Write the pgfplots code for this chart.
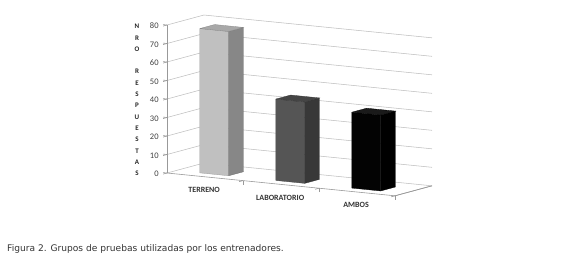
\documentclass[border=0pt]{standalone}
\usepackage{fontspec}
\setmainfont{Carlito}
\newfontfamily\capfont{DejaVu Sans}
\usepackage{pgfplots}
\pgfplotsset{compat=1.18}
\definecolor{gridc}{HTML}{BFBFBF}
\definecolor{tfront}{HTML}{C0C0C0}
\definecolor{tside}{HTML}{878787}
\definecolor{ttop}{HTML}{A8A8A8}
\definecolor{lfront}{HTML}{555555}
\definecolor{lside}{HTML}{383838}
\definecolor{ltop}{HTML}{454545}
\definecolor{afront}{HTML}{030303}
\definecolor{aside}{HTML}{000000}
\definecolor{atop}{HTML}{1A1A1A}
\begin{document}
\begin{tikzpicture}[x=1pt,y=1pt]
\useasboundingbox (-167,-85) rectangle (413,173);
\begin{axis}[
  at={(0pt,0pt)}, anchor=origin,
  x={(76pt,-7.6pt)}, y={(37pt,10pt)}, z={(0pt,1.85pt)},
  xmin=0, xmax=3, ymin=0, ymax=1, zmin=0, zmax=80,
  clip=false,
  axis lines=left,
  axis line style={-, draw=gridc!80!black, line width=0.6pt},
  zmajorgrids=true,
  grid style={draw=gridc, line width=0.55pt},
  ztick={0,10,...,80},
  ytick=\empty,
  xtick={0.5,1.5,2.5},
  xticklabels={TERRENO,LABORATORIO,AMBOS},
  minor xtick={1,2,3},
  major x tick style={draw=none},
  minor x tick style={draw=gridc!80!black, line width=0.6pt},
  z tick style={draw=gridc!80!black, line width=0.6pt},
  tick align=outside,
  major tick length=4pt,
  minor tick length=4pt,
  /pgf/number format/assume math mode=true,
  z tick label style={font=\fontsize{8.5}{9}\selectfont, text=black!75, anchor=east, xshift=-1pt},
  x tick label style={font=\bfseries\fontsize{8}{9}\selectfont, text=black!80, anchor=north, yshift=-6pt, xshift=3pt},
  no markers,
]
\addplot3[draw=gridc!80!black, line width=0.6pt] coordinates {(3,0,0) (3,1,0)};
% TERRENO = 78
\addplot3[fill=tfront, draw=tfront!80!black, line width=0.3pt] coordinates {(0.31,0.25,0) (0.69,0.25,0) (0.69,0.25,78) (0.31,0.25,78) (0.31,0.25,0)};
\addplot3[fill=tside, draw=tside!80!black, line width=0.3pt] coordinates {(0.69,0.25,0) (0.69,0.65,0) (0.69,0.65,78) (0.69,0.25,78) (0.69,0.25,0)};
\addplot3[fill=ttop, draw=ttop!80!black, line width=0.3pt] coordinates {(0.31,0.25,78) (0.69,0.25,78) (0.69,0.65,78) (0.31,0.65,78) (0.31,0.25,78)};
% LABORATORIO = 44
\addplot3[fill=lfront, draw=lfront!80!black, line width=0.3pt] coordinates {(1.31,0.25,0) (1.69,0.25,0) (1.69,0.25,44) (1.31,0.25,44) (1.31,0.25,0)};
\addplot3[fill=lside, draw=lside!80!black, line width=0.3pt] coordinates {(1.69,0.25,0) (1.69,0.65,0) (1.69,0.65,44) (1.69,0.25,44) (1.69,0.25,0)};
\addplot3[fill=ltop, draw=ltop!80!black, line width=0.3pt] coordinates {(1.31,0.25,44) (1.69,0.25,44) (1.69,0.65,44) (1.31,0.65,44) (1.31,0.25,44)};
% AMBOS = 41
\addplot3[fill=afront, draw=black, line width=0.3pt] coordinates {(2.31,0.25,0) (2.69,0.25,0) (2.69,0.25,41) (2.31,0.25,41) (2.31,0.25,0)};
\addplot3[fill=aside, draw=black, line width=0.3pt] coordinates {(2.69,0.25,0) (2.69,0.65,0) (2.69,0.65,41) (2.69,0.25,41) (2.69,0.25,0)};
\addplot3[fill=atop, draw=black, line width=0.3pt] coordinates {(2.31,0.25,41) (2.69,0.25,41) (2.69,0.65,41) (2.31,0.65,41) (2.31,0.25,41)};
\end{axis}
\node[anchor=north, inner sep=0pt, align=center, text=black!85,
      font=\bfseries\fontsize{7}{11.3}\selectfont] at (-30pt,149pt)
  {N\\R\\O\\[11.3pt]R\\E\\S\\P\\U\\E\\S\\T\\A\\S};
\node[anchor=base west, inner sep=0pt, text=black!80,
      font=\capfont\fontsize{9.1}{11}\selectfont] at (-160pt,-78pt)
  {Figura 2. Grupos de pruebas utilizadas por los entrenadores.};
\end{tikzpicture}
\end{document}
